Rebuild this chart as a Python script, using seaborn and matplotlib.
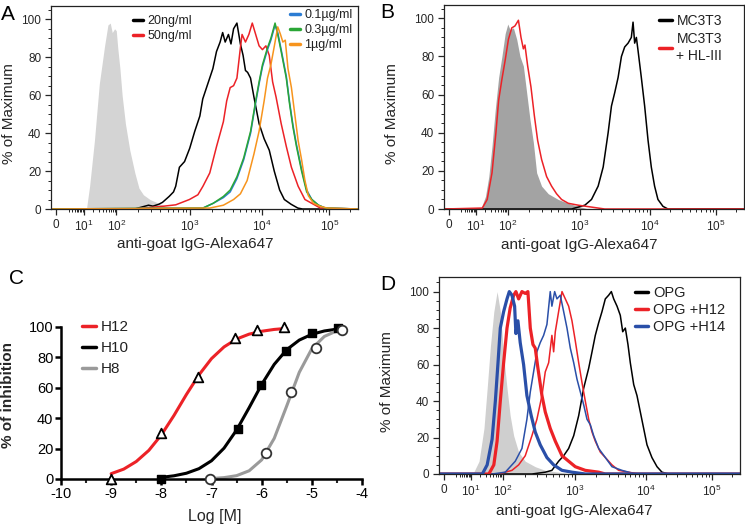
import numpy as np
import matplotlib
matplotlib.use("Agg")
import matplotlib.pyplot as plt
from matplotlib.lines import Line2D
from matplotlib.ticker import FixedLocator, MultipleLocator, NullFormatter, NullLocator
import seaborn as sns

# ---------------- data ----------------
# flow histograms: x = log10(fluorescence), y = % of maximum

# panel A
a_iso_x = [1.09, 1.19, 1.34, 1.49, 1.65, 1.75, 1.82, 1.88, 1.95, 2.0, 2.02, 2.05, 2.08, 2.125,
           2.185, 2.254, 2.31, 2.37, 2.46, 2.58, 2.72]
a_iso_y = [0, 12, 36, 66, 86, 97, 98, 93, 95, 94, 85, 74, 60, 45, 31, 19, 11, 7.5, 5, 3, 0.5]

a_20ng_x = [2.25, 2.44, 2.5, 2.58, 2.63, 2.72, 2.78, 2.81, 2.86, 2.93, 3.0, 3.07, 3.14, 3.18, 3.25,
            3.32, 3.37, 3.42, 3.455, 3.49, 3.535, 3.57, 3.606, 3.652, 3.70, 3.737, 3.77, 3.80, 3.84,
            3.887, 3.958, 4.03, 4.106, 4.18, 4.26, 4.33, 4.43, 4.53, 4.6]
a_20ng_y = [0, 2, 1.5, 2.5, 3.5, 6.6, 9, 12, 22, 25, 32, 41, 49, 58, 66, 74, 83, 88, 93, 88, 92, 87,
            95, 98, 87, 81, 73, 72, 69, 59, 45, 37, 31, 20, 10, 5, 2.5, 0.5, 0]

a_50ng_x = [2.254, 2.625, 2.81, 2.996, 3.113, 3.183, 3.277, 3.371, 3.465, 3.511, 3.559, 3.606, 3.652,
            3.70, 3.723, 3.77, 3.817, 3.864, 3.911, 3.958, 4.005, 4.056, 4.106, 4.156, 4.207, 4.283,
            4.359, 4.435, 4.535, 4.636, 4.738, 4.864]
a_50ng_y = [0, 1.4, 2.2, 5, 7.5, 12, 19, 33, 46, 57, 64, 65, 69, 85, 92, 88, 92, 98, 92, 86, 84, 86,
            81, 67, 59, 45, 33, 22, 12, 5, 3, 0.5]

a_01ug_x = [3.183, 3.324, 3.465, 3.559, 3.652, 3.746, 3.841, 3.911, 3.958, 4.005, 4.08, 4.13, 4.192,
            4.232, 4.283, 4.359, 4.409, 4.459, 4.51, 4.586, 4.662, 4.738, 4.838, 4.939]
a_01ug_y = [0.5, 3, 6, 9, 16, 26, 40, 56, 66, 75, 84, 89, 97, 93, 84, 70, 56, 44, 34, 21, 10, 5, 2, 0.5]

a_03ug_x = [3.183, 3.324, 3.465, 3.559, 3.652, 3.746, 3.841, 3.911, 3.958, 4.005, 4.08, 4.13, 4.192,
            4.232, 4.283, 4.359, 4.409, 4.459, 4.51, 4.586, 4.662, 4.738, 4.838, 4.939]
a_03ug_y = [0.5, 3, 6.6, 10, 17, 27, 41, 57, 67, 76, 85, 90, 98, 92, 83, 69, 55, 43, 33, 20, 9, 5, 2, 0.5]

a_1ug_x = [3.277, 3.465, 3.606, 3.70, 3.793, 3.887, 3.958, 4.03, 4.08, 4.13, 4.182, 4.232, 4.273, 4.308,
           4.344, 4.384, 4.435, 4.485, 4.535, 4.586, 4.636, 4.687, 4.763, 4.864, 4.965]
a_1ug_y = [0.5, 2, 5, 8, 15, 29, 41, 57, 69, 76, 86, 96, 92, 88, 89, 74, 64, 50, 36, 26, 15, 7, 3, 1.4, 0.5]

# panel B
b_iso_x = [1.16, 1.31, 1.415, 1.515, 1.615, 1.72, 1.82, 1.92, 2.0, 2.032, 2.079, 2.125, 2.171, 2.218,
           2.264, 2.31, 2.357, 2.403, 2.472, 2.565, 2.704, 2.843, 2.982, 3.123]
b_iso_y = [0, 6.6, 17, 33, 52, 69, 80, 92, 97, 94, 95, 89, 80, 75, 61, 47, 35, 19, 12, 8, 5, 3, 1.4, 0]

b_hl_x = [1.21, 1.364, 1.515, 1.636, 1.72, 1.82, 1.92, 2.009, 2.056, 2.10, 2.149, 2.185, 2.218, 2.24,
          2.278, 2.324, 2.371, 2.417, 2.472, 2.542, 2.611, 2.68, 2.75, 2.843, 2.982, 3.169, 3.356]
b_hl_y = [0.5, 5, 19, 40, 57, 68, 78, 89, 95, 96, 99, 90, 84, 86, 75, 64, 49, 36, 26, 17, 12, 8, 5, 3,
          2, 1, 0]

b_mc_x = [2.889, 3.075, 3.169, 3.263, 3.334, 3.404, 3.451, 3.497, 3.545, 3.592, 3.638, 3.686, 3.732,
          3.756, 3.779, 3.803, 3.827, 3.873, 3.92, 3.968, 4.015, 4.065, 4.116, 4.192, 4.268]
b_mc_y = [0, 2, 5, 12, 22, 40, 54, 61, 69, 80, 85, 87, 90, 98, 87, 90, 83, 69, 54, 36, 22, 12, 5, 1.4, 0]

# panel C: inhibition, log molar
c_h12_x = [-9, -8, -7.27, -6.54, -6.09, -5.56]
c_h12_y = [0, 30, 67, 93, 98, 99.8]
c_h10_x = [-8, -6.48, -6.01, -5.52, -5.0, -4.48]
c_h10_y = [0, 32.6, 62, 84, 95.8, 99.5]
c_h8_x = [-7.03, -5.91, -5.41, -4.91, -4.4]
c_h8_y = [0, 17.3, 57.5, 86, 98]

c_h12_fit_x = [-9, -8.75, -8.5, -8.25, -8, -7.75, -7.5, -7.25, -7, -6.75, -6.5, -6.25, -6, -5.75, -5.5]
c_h12_fit_y = [3.5, 6.5, 11.5, 18.8, 29, 41.7, 55.6, 68.5, 79.2, 86.9, 92.1, 95.3, 97.2, 98.4, 99.1]
c_h10_fit_x = [-8, -7.75, -7.5, -7.25, -7, -6.75, -6.5, -6.25, -6, -5.75, -5.5, -5.25, -5, -4.75, -4.5]
c_h10_fit_y = [1.1, 2.1, 3.8, 6.8, 12.0, 20.3, 32.2, 46.9, 62.2, 75.4, 85.1, 91.4, 95.2, 97.4, 98.6]
c_h8_fit_x = [-7, -6.75, -6.5, -6.25, -6, -5.75, -5.5, -5.25, -5, -4.75, -4.5, -4.4]
c_h8_fit_y = [0.3, 0.9, 2.2, 5.4, 12.6, 26.7, 48.1, 70.2, 85.7, 93.8, 97.5, 98.3]

# panel D
d_iso_x = [1.06, 1.26, 1.415, 1.515, 1.615, 1.72, 1.82, 1.92, 2.009, 2.056, 2.10, 2.149, 2.218, 2.31,
           2.449, 2.588, 2.773, 2.958]
d_iso_y = [0, 7, 25, 47, 70, 89, 100, 89, 65, 47, 32, 21, 12, 7, 4, 2, 1, 0]

d_h14a_x = [1.364, 1.515, 1.667, 1.767, 1.848, 1.918, 2.009, 2.056, 2.088, 2.125, 2.162, 2.18, 2.208,
            2.24, 2.287, 2.333, 2.393, 2.449, 2.518, 2.611, 2.704, 2.82, 2.958, 3.145]
d_h14a_y = [0, 5, 19, 40, 61, 80, 89, 96, 100, 98, 92, 77, 84, 72, 60, 43, 32, 23, 16, 9, 5, 2, 1, 0]

d_h12a_x = [1.567, 1.72, 1.82, 1.918, 2.009, 2.056, 2.10, 2.149, 2.18, 2.218, 2.264, 2.31, 2.347, 2.38,
            2.417, 2.449, 2.486, 2.542, 2.588, 2.657, 2.727, 2.82, 2.912, 3.004, 3.145, 3.334, 3.427]
d_h12a_y = [0, 5, 18, 40, 61, 80, 91, 98, 100, 96, 100, 99, 100, 80, 71, 69, 58, 43, 34, 25, 18, 10,
            7, 4, 2, 1, 0]

d_h14b_x = [1.667, 2.032, 2.171, 2.264, 2.333, 2.38, 2.426, 2.472, 2.518, 2.565, 2.611, 2.657, 2.68,
            2.718, 2.75, 2.796, 2.843, 2.889, 2.935, 2.982, 3.028, 3.075, 3.122, 3.169, 3.216, 3.263,
            3.334, 3.428, 3.521, 3.662, 3.85]
d_h14b_y = [0, 1, 7, 14, 30, 45, 56, 67, 72, 76, 82, 100, 92, 100, 96, 98, 89, 80, 69, 61, 52, 45, 38,
            30, 27, 21, 14, 9, 4, 2, 0]

d_h12b_x = [1.87, 2.125, 2.218, 2.31, 2.403, 2.472, 2.542, 2.588, 2.635, 2.68, 2.704, 2.727, 2.773, 2.82,
            2.866, 2.912, 2.958, 3.004, 3.052, 3.099, 3.145, 3.193, 3.24, 3.286, 3.357, 3.428, 3.521,
            3.615, 3.756, 3.897]
d_h12b_y = [0, 2, 5, 10, 21, 30, 43, 56, 61, 76, 67, 78, 89, 100, 96, 92, 84, 73, 61, 50, 40, 30, 23,
            18, 12, 9, 5, 2, 1, 0]

d_opg_x = [2.403, 2.588, 2.68, 2.773, 2.843, 2.912, 2.982, 3.052, 3.122, 3.193, 3.24, 3.286, 3.334, 3.38,
           3.427, 3.474, 3.512, 3.545, 3.592, 3.638, 3.672, 3.709, 3.746, 3.779, 3.827, 3.873, 3.92,
           3.967, 4.015, 4.09, 4.167, 4.242, 4.344]
d_opg_y = [0, 1, 2, 7, 10, 14, 21, 32, 47, 58, 67, 76, 83, 89, 96, 98, 100, 96, 92, 87, 78, 80, 71, 61,
           49, 43, 34, 25, 16, 9, 4, 1, 0]

# ---------------- style ----------------
sns.set_style("ticks")
plt.rcParams["font.family"] = ["Liberation Sans", "DejaVu Sans"]
plt.rcParams["mathtext.fontset"] = "custom"
plt.rcParams["mathtext.rm"] = "Liberation Sans"
plt.rcParams["mathtext.it"] = "Liberation Sans:italic"
plt.rcParams["axes.unicode_minus"] = False
plt.rcParams["axes.edgecolor"] = "#222222"
plt.rcParams["text.color"] = "#222222"

RED = "#ec2227"
GREEN = "#2aa636"
ORANGE = "#f7941d"
BLUE_A = "#2b7cd3"
BLUE = "#2a4fa8"

# biexponential-like display scale (FlowJo style)
SC_V = np.array([-1e4, -100, 0, 10, 100, 1e3, 1e4, 1e5, 262144, 1e8])
SC_U = np.sign(SC_V) * np.log10(1 + np.abs(SC_V))
SC_P = np.array([-60, 0, 5, 32, 64, 136, 207, 273, 301, 471])
XMIN, XMAX = -100, 262144


def _fwd(x):
    x = np.asarray(x, dtype=float)
    u = np.sign(x) * np.log10(1 + np.abs(x))
    return np.interp(u, SC_U, SC_P)


def _inv(p):
    u = np.interp(np.asarray(p, dtype=float), SC_P, SC_U)
    return np.sign(u) * (10 ** np.abs(u) - 1)


def px_axes(fig, l, t, r, b):
    W, H = 745, 524
    return fig.add_axes([l / W, 1 - b / H, (r - l) / W, (b - t) / H])


def flow_axes(ax, ylab_x):
    ax.set_xscale("function", functions=(_fwd, _inv))
    ax.set_xlim(XMIN, XMAX)
    ax.set_ylim(0, 107)
    ax.xaxis.set_major_locator(FixedLocator([0, 10, 100, 1e3, 1e4, 1e5]))
    ax.set_xticklabels(["0", "$10^1$", "$10^2$", "$10^3$", "$10^4$", "$10^5$"])
    minors = [k * 10 ** e for e in range(0, 5) for k in range(2, 10)] + [2e5]
    ax.xaxis.set_minor_locator(FixedLocator(minors))
    ax.xaxis.set_minor_formatter(NullFormatter())
    ax.yaxis.set_major_locator(FixedLocator([0, 20, 40, 60, 80, 100]))
    ax.yaxis.set_minor_locator(MultipleLocator(5))
    ax.tick_params(which="major", length=4, width=0.9, labelsize=8.5, pad=3)
    ax.tick_params(which="minor", length=2, width=0.7)
    for s in ax.spines.values():
        s.set_linewidth(0.9)
    ax.set_xlabel("anti-goat IgG-Alexa647", fontsize=11)
    ax.set_ylabel("% of Maximum", fontsize=11)
    ax.yaxis.set_label_coords(ylab_x, 0.47)
    ax.xaxis.set_label_coords(0.47, -0.14)


def hist_line(ax, logx, y, color, lw=1.1, z=2):
    x = np.r_[XMIN, 10 ** np.array(logx), XMAX]
    yy = np.r_[0, y, 0]
    sns.lineplot(x=x, y=yy, ax=ax, color=color, lw=lw, sort=False, estimator=None,
                 legend=False, zorder=z)


def hist_fill(ax, logx, y, color):
    x = 10 ** np.array(logx)
    ax.fill_between(x, y, 0, color=color, lw=0, zorder=1)


def add_legend(ax, entries, anchor, fs, hl, spacing):
    handles = [Line2D([], [], color=c, lw=2.5) for c, _ in entries]
    labels = [t for _, t in entries]
    leg = ax.legend(handles, labels, loc="upper left", bbox_to_anchor=anchor, frameon=False,
                    fontsize=fs, handlelength=hl, handletextpad=0.35, borderpad=0,
                    borderaxespad=0, labelspacing=spacing)
    return leg


fig = plt.figure(figsize=(7.45, 5.24), dpi=100)

# ---------------- A ----------------
axA = px_axes(fig, 51, 6, 358, 209)
flow_axes(axA, -0.115)
hist_fill(axA, a_iso_x, a_iso_y, "#d4d4d4")
hist_line(axA, a_20ng_x, a_20ng_y, "black")
hist_line(axA, a_50ng_x, a_50ng_y, RED)
hist_line(axA, a_01ug_x, a_01ug_y, BLUE_A)
hist_line(axA, a_03ug_x, a_03ug_y, GREEN)
hist_line(axA, a_1ug_x, a_1ug_y, ORANGE)
leg1 = add_legend(axA, [("black", "20ng/ml"), (RED, "50ng/ml")], (0.267, 0.955), 9, 0.8, 0.25)
axA.add_artist(leg1)
add_legend(axA, [(BLUE_A, "0.1µg/ml"), (GREEN, "0.3µg/ml"), (ORANGE, "1µg/ml")],
           (0.778, 0.985), 9, 0.8, 0.25)

# ---------------- B ----------------
axB = px_axes(fig, 444, 5, 744, 209)
flow_axes(axB, -0.15)
axB.xaxis.set_label_coords(0.45, -0.14)
hist_fill(axB, b_iso_x, b_iso_y, "#a3a3a3")
hist_line(axB, b_mc_x, b_mc_y, "black")
hist_line(axB, b_hl_x, b_hl_y, RED)
legB = add_legend(axB, [("black", "MC3T3"), (RED, "MC3T3\n+ HL-III")], (0.717, 0.955), 10, 0.9, 0.3)
for t in legB.get_texts():
    t.set_multialignment("center")

# ---------------- C ----------------
axC = px_axes(fig, 61, 327, 362, 479)
sns.lineplot(x=c_h12_fit_x, y=c_h12_fit_y, ax=axC, color=RED, lw=2.2, sort=False,
             estimator=None, clip_on=False)
sns.lineplot(x=c_h10_fit_x, y=c_h10_fit_y, ax=axC, color="black", lw=2.2, sort=False,
             estimator=None, clip_on=False)
sns.lineplot(x=c_h8_fit_x, y=c_h8_fit_y, ax=axC, color="#9a9a9a", lw=2.2, sort=False,
             estimator=None, clip_on=False)
sns.scatterplot(x=c_h12_x, y=c_h12_y, ax=axC, marker="^", s=48, facecolor="white",
                edgecolor="black", linewidth=1.3, clip_on=False, zorder=5)
sns.scatterplot(x=c_h10_x, y=c_h10_y, ax=axC, marker="s", s=40, color="black",
                edgecolor="black", linewidth=1, clip_on=False, zorder=5)
sns.scatterplot(x=c_h8_x, y=c_h8_y, ax=axC, marker="o", s=48, facecolor="white",
                edgecolor="#333333", linewidth=1.3, clip_on=False, zorder=5)
axC.set_xlim(-10, -4)
axC.set_ylim(0, 100)
axC.xaxis.set_major_locator(MultipleLocator(1))
axC.xaxis.set_minor_locator(MultipleLocator(0.5))
axC.yaxis.set_major_locator(MultipleLocator(20))
axC.yaxis.set_minor_locator(NullLocator())
axC.tick_params(which="major", length=4, width=1.8, labelsize=10.5, pad=1.5, colors="black")
axC.tick_params(which="minor", length=3, width=1.5)
sns.despine(ax=axC)
for s in ("left", "bottom"):
    axC.spines[s].set_linewidth(1.8)
    axC.spines[s].set_color("black")
axC.set_xlabel("Log [M]", fontsize=11.5)
axC.set_ylabel("% of inhibition", fontsize=11, fontweight="bold")
axC.xaxis.set_label_coords(0.51, -0.2)
axC.yaxis.set_label_coords(-0.152, 0.55)
add_legend(axC, [(RED, "H12"), ("black", "H10"), ("#9a9a9a", "H8")], (0.07, 1.045), 11, 0.9, 0.45)

# ---------------- D ----------------
axD = px_axes(fig, 439, 277, 740, 474)
flow_axes(axD, -0.15)
axD.set_ylim(0, 108)
axD.xaxis.set_label_coords(0.45, -0.15)
hist_fill(axD, d_iso_x, d_iso_y, "#cfcfcf")
hist_line(axD, d_opg_x, d_opg_y, "black")
hist_line(axD, d_h12b_x, d_h12b_y, RED, lw=1.1)
hist_line(axD, d_h14b_x, d_h14b_y, BLUE, lw=1.1)
hist_line(axD, d_h12a_x, d_h12a_y, RED, lw=2.3)
hist_line(axD, d_h14a_x, d_h14a_y, BLUE, lw=2.3)
add_legend(axD, [("black", "OPG"), (RED, "OPG +H12"), (BLUE, "OPG +H14")], (0.651, 0.955),
           10.5, 0.9, 0.2)

# panel letters
for lbl, x, y in [("A", 8, 14), ("B", 387, 13), ("C", 16, 279), ("D", 388, 285)]:
    fig.text(x / 745, 1 - y / 524, lbl, fontsize=15, ha="center", va="center", color="black")

fig.savefig("out.png", dpi=100)
